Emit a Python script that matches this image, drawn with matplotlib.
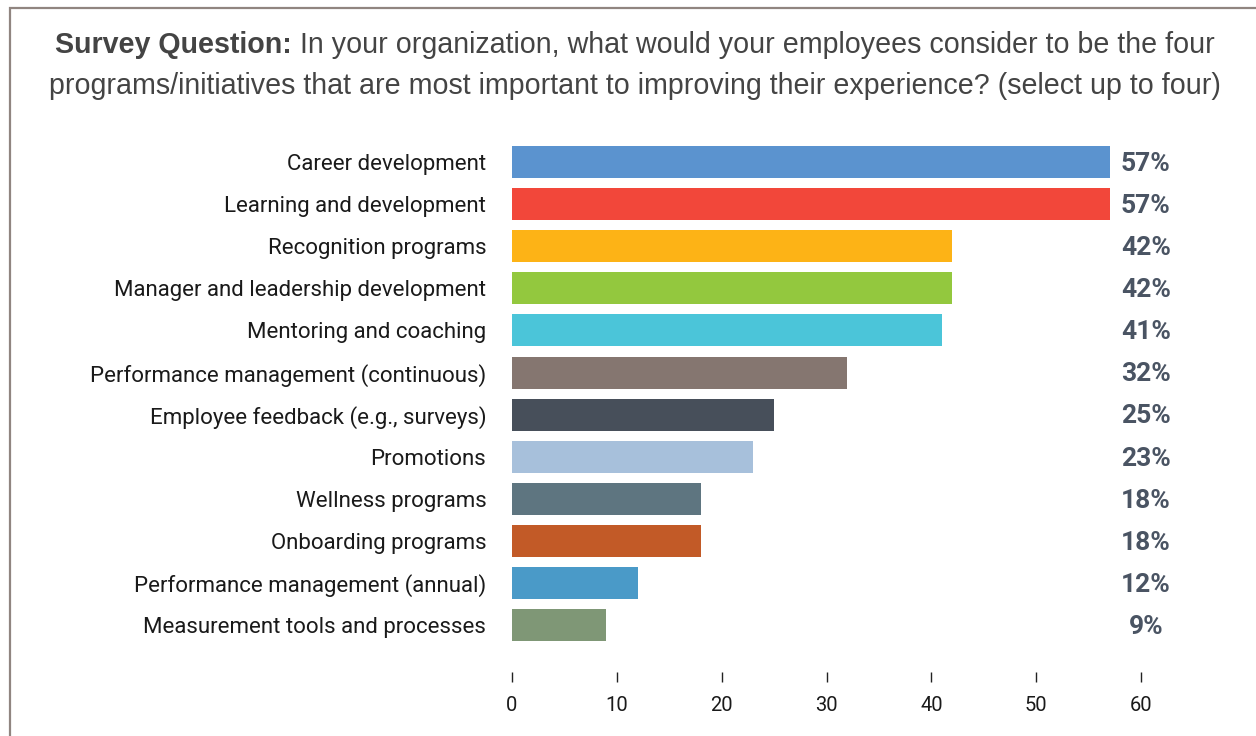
import matplotlib.pyplot as plt
from matplotlib.patches import Rectangle

categories = [
    "Career development",
    "Learning and development",
    "Recognition programs",
    "Manager and leadership development",
    "Mentoring and coaching",
    "Performance management (continuous)",
    "Employee feedback (e.g., surveys)",
    "Promotions",
    "Wellness programs",
    "Onboarding programs",
    "Performance management (annual)",
    "Measurement tools and processes",
]
values = [57, 57, 42, 42, 41, 32, 25, 23, 18, 18, 12, 9]
colors = [
    "#5b93cf", "#f2473a", "#fdb316", "#93c83e", "#4bc5d9", "#857670",
    "#474f5a", "#a7c0db", "#5e7580", "#c25a27", "#4a9ac8", "#7f9776",
]
x_ticks = [0, 10, 20, 30, 40, 50, 60]

W, H = 1256, 736
fig = plt.figure(figsize=(W / 100, H / 100), dpi=100)

# frame around the card (runs off the right and bottom edges)
fig.patches.append(Rectangle((10 / W, -0.1), 1.2, (H - 8) / H + 0.1,
                             transform=fig.transFigure, fill=False,
                             edgecolor="#908580", linewidth=1.6))

title_font = ["Liberation Sans", "DejaVu Sans"]
t1a = "Survey Question:"
t1b = " In your organization, what would your employees consider to be the four"
line2 = "programs/initiatives that are most important to improving their experience? (select up to four)"
tsize = 20.6
cx = W / 2 + 7

ax = fig.add_axes([512 / W, 1 - 672 / H, (1141 - 512) / W, (672 - 141) / H])
n = len(categories)
pos = list(range(n))
ax.barh(pos, values, height=0.76, color=colors)
ax.set_xlim(0, 60)
ax.set_ylim(n - 1 + 0.5 + 0.61, -0.5)
ax.set_yticks(pos)
ax.set_yticklabels(categories, fontsize=16, family=["Roboto", "DejaVu Sans"], color="#1a1a1a")
ax.tick_params(axis="y", length=0, pad=18.5)
ax.set_xticks(x_ticks)
ax.set_xticklabels([str(t) for t in x_ticks], fontsize=14.5, family=["Roboto", "DejaVu Sans"], color="#1a1a1a")
ax.tick_params(axis="x", length=7.2, width=1, color="#222222", pad=10)
for s in ax.spines.values():
    s.set_visible(False)

for p, v in zip(pos, values):
    ax.text(60.45, p + 0.04, f"{v}%", ha="center", va="center", fontsize=19,
            fontweight="bold", family=["Roboto", "DejaVu Sans"], color="#4a5463")

# title drawn after layout so both parts of line one sit side by side
fig.canvas.draw()
r = fig.canvas.get_renderer()
ta = fig.text(0, 1 - 45 / H, t1a, fontsize=tsize, fontweight="bold", family=title_font,
              color="#444444", va="center")
tb = fig.text(0, 1 - 45 / H, t1b, fontsize=tsize, family=title_font,
              color="#444444", va="center")
wa = ta.get_window_extent(r).width
wb = tb.get_window_extent(r).width
x0 = (cx - (wa + wb) / 2) / W
ta.set_x(x0)
tb.set_x(x0 + wa / W)
fig.text(cx / W, 1 - 86 / H, line2, fontsize=tsize, family=title_font,
         color="#444444", ha="center", va="center")

fig.savefig("out.png", dpi=100)
